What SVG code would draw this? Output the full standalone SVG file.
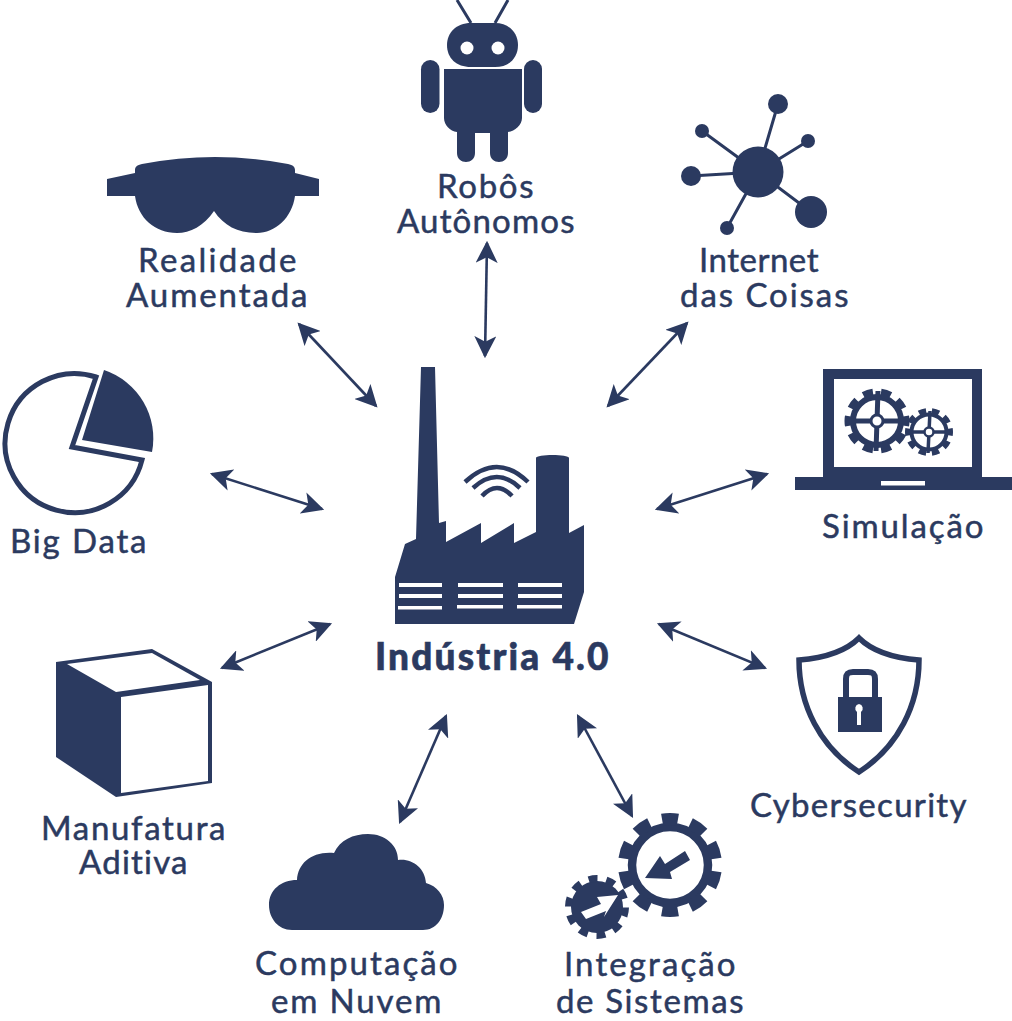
<svg xmlns="http://www.w3.org/2000/svg" width="1012" height="1021" viewBox="0 0 1012 1021">
<style>
.i{fill:#2b3a60}
.o{fill:none;stroke:#2b3a60}
.w{fill:#fff}
text{font-family:"Lato","Liberation Sans",sans-serif;font-size:33px;fill:#2b3a60;stroke:#2b3a60;stroke-width:.5;text-anchor:middle;letter-spacing:1.5px}
.c{fill:none;stroke:#2b3a60;stroke-width:2.6;marker-start:url(#a);marker-end:url(#a)}
</style>
<defs><marker id="a" viewBox="0 0 10 10" refX="9" refY="5" markerWidth="8.5" markerHeight="8.5" orient="auto-start-reverse"><path d="M0 0L10 5L0 10L2.5 5Z" fill="#2b3a60"/></marker></defs>
<rect width="1012" height="1021" fill="#fff"/>
<g id="connectors">
<path class="c" d="M299 324L376 406"/>
<path class="c" d="M487 243L485 356"/>
<path class="c" d="M687 323L608 406"/>
<path class="c" d="M767 474L657 509"/>
<path class="c" d="M212 474L322 509"/>
<path class="c" d="M330 624L222 668"/>
<path class="c" d="M659 624L765 668"/>
<path class="c" d="M446 716L400 822"/>
<path class="c" d="M578 716L632 816"/>
</g>
<g id="industria">
<path class="i" d="M421 367H435L439 523L446 521V542L481 523V543L514 523V543L536 532V458C536 454 569 454 569 458V533L584 525V592L574 624H395V577L405 544L416 539Z"/>
<rect class="w" x="399" y="583" width="43" height="4"/><rect class="w" x="399" y="594" width="43" height="4"/><rect class="w" x="398" y="606" width="44" height="3.500"/>
<rect class="w" x="458" y="583" width="45" height="4"/><rect class="w" x="458" y="594" width="45" height="4"/><rect class="w" x="457" y="605" width="46" height="3.500"/>
<rect class="w" x="518" y="583" width="44" height="4"/><rect class="w" x="518" y="594" width="44" height="4"/><rect class="w" x="517" y="605" width="45" height="3.500"/>
<path class="o" stroke-width="4.5" d="M465 482Q497 452 528 482M473 488Q497 466 520 488M482 496Q497 480 512 496"/>
<text x="492.500" y="670" textLength="235" style="font-weight:900;font-size:37px;stroke-width:.6">Indústria 4.0</text>
</g>
<g id="robos">
<path class="o" stroke-width="3" d="M457 0L471 23M508 0L495 23"/>
<path class="i" d="M471 23H495C509 23 518 33 518 45C518 58 509 67 495 67H471C456 67 447 58 447 45C447 33 456 23 471 23Z"/>
<circle class="w" cx="467" cy="48" r="6.500"/><circle class="w" cx="498" cy="48" r="6.500"/>
<rect class="i" x="421" y="60" width="18.500" height="53" rx="9.250"/><rect class="i" x="524" y="60" width="18" height="53" rx="9"/>
<path class="i" d="M444 69H522V118C522 125 515 131 508 132V153C508 165 490 165 490 153V133H475V153C475 165 457 165 457 153V132C450 131 444 125 444 118Z"/>
<text x="486" y="198" textLength="98">Robôs</text><text x="486.500" y="233" textLength="179">Autônomos</text>
</g>
<g id="iot">
<path class="o" stroke-width="3" d="M758 172L778 104M758 172L808 141M758 172L702 131M758 172L691 176M758 172L811 212M758 172L727 228"/>
<circle class="i" cx="758" cy="172" r="25.500"/><circle class="i" cx="778" cy="104" r="10"/><circle class="i" cx="808" cy="141" r="7"/><circle class="i" cx="702" cy="131" r="7"/><circle class="i" cx="691" cy="176" r="10"/><circle class="i" cx="811" cy="212" r="16"/><circle class="i" cx="727" cy="228" r="7"/>
<text x="759.500" y="272" textLength="121">Internet</text><text x="765" y="307" textLength="170">das Coisas</text>
</g>
<g id="realidade">
<path class="i" d="M107 179L135 173V170C135 167 137 165 142 164Q215 150 288 164C293 165 295 167 295 170V173L319 179V196H295C292 218 275 233 257 233C238 233 224 226 214 211C204 226 190 233 177 233C155 233 138 218 135 196H107Z"/>
<text x="218" y="272" textLength="160">Realidade</text><text x="217.500" y="307" textLength="183">Aumentada</text>
</g>
<g id="bigdata">
<path class="o" stroke-width="5" d="M96 377A69.500 69.500 0 1 0 142 460L72 447Z"/>
<path class="i" d="M104 370A72 72 0 0 1 152 452L82 440Z"/>
<text x="79" y="553" textLength="138">Big Data</text>
</g>
<g id="simulacao">
<path class="i" d="M823 369H982V477H1012V490H795V477H823ZM834 379V467H972V379Z"/>
<rect class="w" x="881" y="481" width="44" height="4.500"/>
<g class="o">
<circle cx="877" cy="421" r="24" stroke-width="6"/><circle cx="877" cy="421" r="28" stroke-width="9" pathLength="100" stroke-dasharray="5.500 4.500" stroke-dashoffset="2.750"/>
<path stroke-width="5" d="M847 421H907M878 391L876 451"/>
<circle cx="929" cy="432" r="17.500" stroke-width="4"/><circle cx="929" cy="432" r="20.500" stroke-width="7" pathLength="100" stroke-dasharray="5.500 4.500" stroke-dashoffset="2.750"/>
<path stroke-width="3.500" d="M908 432H950M930 411L928 453"/>
</g>
<circle class="w" cx="877" cy="421" r="6"/><circle class="o" cx="877" cy="421" r="6" stroke-width="3"/>
<circle class="w" cx="929" cy="432" r="4.500"/><circle class="o" cx="929" cy="432" r="4.500" stroke-width="2.500"/>
<text x="903.500" y="538" textLength="163">Simulação</text>
</g>
<g id="cyber">
<path class="o" stroke-width="5.500" d="M859 638C845 652 825 658 799 660C799 705 820 747 859 772C898 747 919 705 919 660C893 658 873 652 859 638Z"/>
<path class="o" stroke-width="6" d="M846 698V679C846 673 849 672 853 672H868C872 672 875 673 875 679V698"/>
<rect class="i" x="838" y="697" width="44" height="35"/>
<path class="w" d="M859 704A4.500 4.500 0 0 1 861 712L861 725H857V712A4.500 4.500 0 0 1 859 704Z"/>
<text x="859" y="817" textLength="218">Cybersecurity</text>
</g>
<g id="manufatura">
<path class="i" d="M56 662L152 649L212 682V783L116 797L56 757Z"/>
<path class="w" d="M67 664L152 653L200 680L116 692Z"/>
<path class="w" d="M121 697L208 685V781L121 793Z"/>
<text x="134" y="840" textLength="186">Manufatura</text><text x="134" y="874" textLength="110">Aditiva</text>
</g>
<g id="nuvem">
<path class="i" d="M292 930C278 930 269 918 269 905C269 890 281 880 297 880C298 863 312 851 334 853C340 840 353 834 368 834C385 834 398 845 398 860C412 858 425 868 426 883C437 886 444 895 444 905C444 919 436 930 423 930Z"/>
<text x="357" y="975" textLength="204">Computação</text><text x="357" y="1013" textLength="172">em Nuvem</text>
</g>
<g id="integracao">
<circle class="o" cx="670" cy="865" r="38" stroke-width="8.500"/><circle class="o" cx="670" cy="865" r="46" stroke-width="12" pathLength="100" stroke-dasharray="5.500 4.500" stroke-dashoffset="-2.250"/>
<path class="i" d="M645 878L660 856L665 864L685 851L690 860L670 872L672 879Z"/>
<circle class="i" cx="597" cy="907" r="26"/><circle class="o" cx="597" cy="907" r="28.500" stroke-width="7" pathLength="100" stroke-dasharray="5 5" stroke-dashoffset="-0.280"/>
<path class="w" d="M618 895L597 897L601 904L581 912L586 919L606 911L604 917Z"/>
<text x="650.500" y="976" textLength="173">Integração</text><text x="650.500" y="1013" textLength="189">de Sistemas</text>
</g>
</svg>
